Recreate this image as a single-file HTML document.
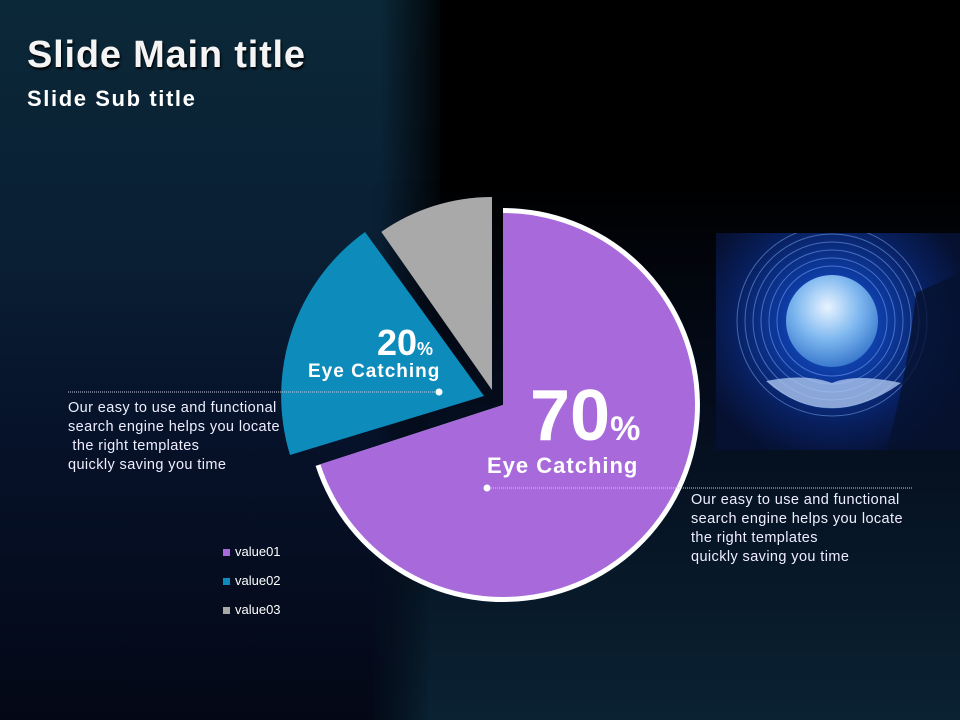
<!DOCTYPE html>
<html><head><meta charset="utf-8"><style>
html,body{margin:0;padding:0}
body{width:960px;height:720px;position:relative;overflow:hidden;font-family:"Liberation Sans","DejaVu Sans",sans-serif;
background:#03050c;}
.bg1{position:absolute;left:0;top:0;width:440px;height:720px;background:linear-gradient(180deg,#0b2838 0%,#0a1f34 35%,#06122a 60%,#040816 100%);}
.bg2{position:absolute;left:380px;top:0;width:580px;height:720px;background:linear-gradient(90deg,rgba(0,0,0,0),#000 12%,#000);}
.bg3{position:absolute;left:370px;top:180px;width:590px;height:540px;background:linear-gradient(180deg,rgba(2,4,12,0) 0%,#040c1c 40%,#0a2232 100%);
-webkit-mask-image:linear-gradient(90deg,transparent 0,#000 60px);mask-image:linear-gradient(90deg,transparent 0,#000 60px);}
.t{position:absolute;color:#fff;font-weight:bold}
.p{position:absolute;color:#eef;font-size:14.5px;line-height:19px;white-space:pre;letter-spacing:0.4px}
.lg{position:absolute;color:#fff;font-size:13px}
.lg i{display:inline-block;width:7px;height:7px;margin-right:5px}
</style></head><body>
<div class="bg1"></div><div class="bg2"></div><div class="bg3"></div>
<div style="position:absolute;left:716px;top:233px;width:244px;height:217px;overflow:hidden;background:radial-gradient(circle at 48% 42%,#1a5ed8 0%,#0d3aa0 30%,#082060 55%,#061030 80%);">
<svg width="244" height="217">
<g fill="none" stroke="#7fb0ff" stroke-opacity="0.5" stroke-width="1">
<circle cx="116" cy="88" r="55"/><circle cx="116" cy="88" r="63"/><circle cx="116" cy="88" r="71"/><circle cx="116" cy="88" r="79"/><circle cx="116" cy="88" r="87"/><circle cx="116" cy="88" r="95"/></g>
<defs><radialGradient id="gl" cx="0.45" cy="0.35" r="0.7"><stop offset="0" stop-color="#e8f4ff"/><stop offset="0.5" stop-color="#7fb8f0"/><stop offset="1" stop-color="#2f70c8"/></radialGradient></defs>
<circle cx="116" cy="88" r="46" fill="url(#gl)"/>
<path d="M50 148 Q90 140 116 150 Q140 140 185 150 Q150 175 116 175 Q80 175 50 148Z" fill="#aac4ee" opacity="0.8"/>
<path d="M200 60 L244 40 L244 217 L170 217 Q190 150 200 60Z" fill="#06122e" opacity="0.8"/>
</svg></div>
<div class="t" style="left:27px;top:34px;font-size:38px;letter-spacing:0.8px;text-shadow:1px 2px 2px #000;color:#f4f4f4">Slide Main title</div>
<div class="t" style="left:27px;top:86px;font-size:22px;letter-spacing:1.6px">Slide Sub title</div>
<svg style="position:absolute;left:0;top:0" width="960" height="720">
<path d="M503 405 L503 208 A197 197 0 1 1 315.6 465.9 Z" fill="#fff"/>
<path d="M503 405 L503 213 A192 192 0 1 1 320.4 464.3 Z" fill="#a86adb"/>
<path d="M484 396 L290 455 A202 202 0 0 1 365 232 Z" fill="#0d8bbb"/>
<path d="M492 390 L381.3 231.9 A193 193 0 0 1 492 197 Z" fill="#a9a9a9"/>
<line x1="68" y1="392" x2="439" y2="392" stroke="#ccd" stroke-width="1" stroke-dasharray="1,1"/>
<circle cx="439" cy="392" r="3.5" fill="#fff"/>
<line x1="487" y1="488" x2="912" y2="488" stroke="#ccd" stroke-width="1" stroke-dasharray="1,1"/>
<circle cx="487" cy="488" r="3.5" fill="#fff"/>
</svg>
<div class="t" style="left:377px;top:322px;font-size:36px">20<span style="font-size:18px">%</span></div>
<div class="t" style="left:308px;top:361px;font-size:19px;letter-spacing:1px">Eye  Catching</div>
<div class="t" style="left:530px;top:376px;font-size:72px;line-height:80px">70<span style="font-size:34px">%</span></div>
<div class="t" style="left:487px;top:453px;font-size:22px;letter-spacing:1px">Eye  Catching</div>
<div class="p" style="left:68px;top:399px">Our easy to use and functional
search engine helps you locate
 the right templates
quickly saving you time</div>
<div class="p" style="left:691px;top:491px">Our easy to use and functional
search engine helps you locate
the right templates
quickly saving you time</div>
<div class="lg" style="left:223px;top:544px"><i style="background:#a86adb"></i>value01</div>
<div class="lg" style="left:223px;top:573px"><i style="background:#0d8bbb"></i>value02</div>
<div class="lg" style="left:223px;top:602px"><i style="background:#a9a9a9"></i>value03</div>
</body></html>
